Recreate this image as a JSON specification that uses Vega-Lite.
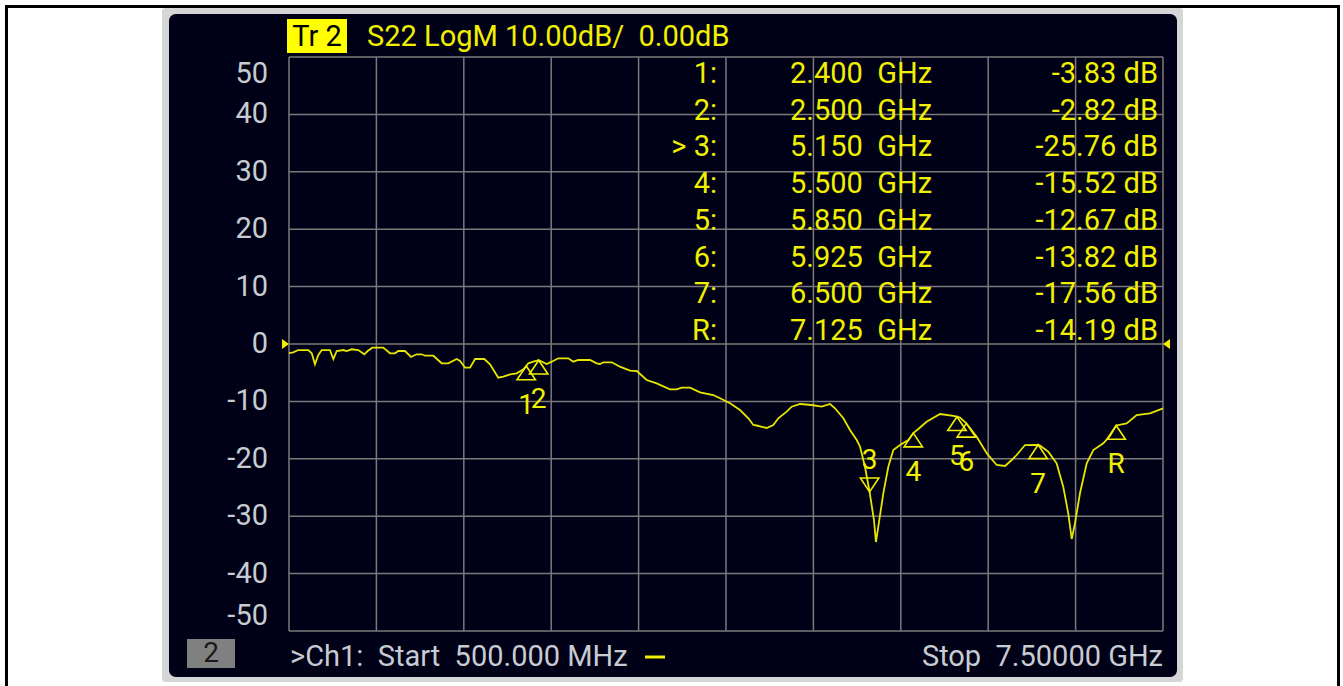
{
  "$schema": "https://vega.github.io/schema/vega-lite/v6.json",
  "width": 874,
  "height": 574,
  "autosize": {"type": "none"},
  "padding": {"left": 289, "top": 57, "right": 180, "bottom": 55},
  "background": "white",
  "config": {"view": {"stroke": null}, "font": "Roboto", "text": {"font": "Roboto"}},
  "datasets": {
    "trace": [
      {"f":0.5,"db":-1.6},{"f":0.534,"db":-1.45},{"f":0.574,"db":-1.05},{"f":0.655,"db":-1.05},{"f":0.682,"db":-1.62},{"f":0.708,"db":-3.54},{"f":0.735,"db":-1.92},{"f":0.762,"db":-1.05},{"f":0.828,"db":-1.05},{"f":0.855,"db":-2.61},{"f":0.882,"db":-1.22},{"f":0.935,"db":-1.05},{"f":0.962,"db":-1.22},{"f":1.002,"db":-0.92},{"f":1.055,"db":-1.05},{"f":1.103,"db":-1.79},{"f":1.13,"db":-1.22},{"f":1.167,"db":-0.64},{"f":1.255,"db":-0.64},{"f":1.309,"db":-1.62},{"f":1.349,"db":-1.62},{"f":1.375,"db":-1.22},{"f":1.429,"db":-1.22},{"f":1.477,"db":-2.26},{"f":1.523,"db":-1.79},{"f":1.563,"db":-1.79},{"f":1.589,"db":-2.04},{"f":1.656,"db":-2.04},{"f":1.723,"db":-3.36},{"f":1.776,"db":-3.36},{"f":1.843,"db":-2.61},{"f":1.87,"db":-2.96},{"f":1.91,"db":-4.13},{"f":1.95,"db":-4.13},{"f":1.99,"db":-2.61},{"f":2.064,"db":-2.61},{"f":2.11,"db":-3.54},{"f":2.176,"db":-5.87},{"f":2.217,"db":-5.7},{"f":2.271,"db":-5.3},{"f":2.324,"db":-5.1},{"f":2.377,"db":-4.41},{"f":2.4,"db":-3.83},{"f":2.417,"db":-3.36},{"f":2.457,"db":-3.08},{"f":2.5,"db":-2.82},{"f":2.51,"db":-2.91},{"f":2.564,"db":-3.48},{"f":2.604,"db":-3.08},{"f":2.657,"db":-2.49},{"f":2.737,"db":-2.49},{"f":2.777,"db":-3.08},{"f":2.817,"db":-2.79},{"f":2.911,"db":-2.79},{"f":2.964,"db":-3.36},{"f":2.991,"db":-3.48},{"f":3.017,"db":-3.19},{"f":3.085,"db":-3.19},{"f":3.151,"db":-3.95},{"f":3.231,"db":-4.65},{"f":3.285,"db":-4.7},{"f":3.365,"db":-6.27},{"f":3.445,"db":-6.85},{"f":3.551,"db":-7.89},{"f":3.605,"db":-7.89},{"f":3.645,"db":-7.61},{"f":3.712,"db":-7.61},{"f":3.792,"db":-8.41},{"f":3.898,"db":-8.89},{"f":3.952,"db":-9.46},{"f":4.032,"db":-10.33},{"f":4.112,"db":-11.5},{"f":4.179,"db":-12.94},{"f":4.219,"db":-14.11},{"f":4.246,"db":-14.2},{"f":4.326,"db":-14.63},{"f":4.379,"db":-14.11},{"f":4.419,"db":-12.94},{"f":4.486,"db":-11.79},{"f":4.526,"db":-10.92},{"f":4.593,"db":-10.45},{"f":4.686,"db":-10.63},{"f":4.766,"db":-10.92},{"f":4.833,"db":-10.45},{"f":4.873,"db":-11.2},{"f":4.94,"db":-12.94},{"f":4.993,"db":-14.98},{"f":5.047,"db":-16.72},{"f":5.074,"db":-17.89},{"f":5.113,"db":-21.38},{"f":5.15,"db":-25.76},{"f":5.185,"db":-30.66},{"f":5.201,"db":-34.5},{"f":5.228,"db":-30.66},{"f":5.26,"db":-26.01},{"f":5.3,"db":-21.38},{"f":5.34,"db":-18.47},{"f":5.394,"db":-17.6},{"f":5.46,"db":-16.72},{"f":5.5,"db":-15.52},{"f":5.54,"db":-14.81},{"f":5.607,"db":-13.54},{"f":5.714,"db":-12.2},{"f":5.82,"db":-12.54},{"f":5.85,"db":-12.67},{"f":5.874,"db":-12.8},{"f":5.925,"db":-13.82},{"f":6.008,"db":-16.15},{"f":6.088,"db":-19.04},{"f":6.168,"db":-21.08},{"f":6.235,"db":-21.25},{"f":6.288,"db":-20.21},{"f":6.328,"db":-19.34},{"f":6.395,"db":-17.6},{"f":6.5,"db":-17.56},{"f":6.515,"db":-17.68},{"f":6.581,"db":-18.76},{"f":6.648,"db":-20.78},{"f":6.701,"db":-24.86},{"f":6.741,"db":-29.49},{"f":6.769,"db":-33.97},{"f":6.795,"db":-31.24},{"f":6.835,"db":-26.01},{"f":6.889,"db":-20.78},{"f":6.942,"db":-18.47},{"f":7.022,"db":-17.3},{"f":7.075,"db":-16.03},{"f":7.125,"db":-14.19},{"f":7.209,"db":-13.82},{"f":7.289,"db":-12.37},{"f":7.396,"db":-12.07},{"f":7.5,"db":-11.2}
    ],
    "markers": [
      {"row":1,"id":"1","tag":"1:","freq":2.4,"val":-3.83,"active":false,"fLabel":"2.400\u00a0\u00a0GHz","vLabel":"-3.83 dB"},
      {"row":2,"id":"2","tag":"2:","freq":2.5,"val":-2.82,"active":false,"fLabel":"2.500\u00a0\u00a0GHz","vLabel":"-2.82 dB"},
      {"row":3,"id":"3","tag":"> 3:","freq":5.15,"val":-25.76,"active":true,"fLabel":"5.150\u00a0\u00a0GHz","vLabel":"-25.76 dB"},
      {"row":4,"id":"4","tag":"4:","freq":5.5,"val":-15.52,"active":false,"fLabel":"5.500\u00a0\u00a0GHz","vLabel":"-15.52 dB"},
      {"row":5,"id":"5","tag":"5:","freq":5.85,"val":-12.67,"active":false,"fLabel":"5.850\u00a0\u00a0GHz","vLabel":"-12.67 dB"},
      {"row":6,"id":"6","tag":"6:","freq":5.925,"val":-13.82,"active":false,"fLabel":"5.925\u00a0\u00a0GHz","vLabel":"-13.82 dB"},
      {"row":7,"id":"7","tag":"7:","freq":6.5,"val":-17.56,"active":false,"fLabel":"6.500\u00a0\u00a0GHz","vLabel":"-17.56 dB"},
      {"row":8,"id":"R","tag":"R:","freq":7.125,"val":-14.19,"active":false,"fLabel":"7.125\u00a0\u00a0GHz","vLabel":"-14.19 dB"}
    ],
    "vgrid": [{"f":0.5},{"f":1.2},{"f":1.9},{"f":2.6},{"f":3.3},{"f":4.0},{"f":4.7},{"f":5.4},{"f":6.1},{"f":6.8},{"f":7.5}],
    "hgrid": [{"db":-50},{"db":-40},{"db":-30},{"db":-20},{"db":-10},{"db":0},{"db":10},{"db":20},{"db":30},{"db":40},{"db":50}],
    "one": [{}]
  },
  "resolve": {"scale": {"y": "independent"}},
  "layer": [
    {
      "layer": [
        {
          "data": {"name": "one"},
          "mark": {"type": "rect", "fill": "transparent", "stroke": "#000000", "strokeWidth": 3},
          "encoding": {
            "x": {"datum": -1.7626, "type": "quantitative", "axis": null},
            "x2": {"datum": 8.9056},
            "y": {"datum": 58.798, "type": "quantitative", "axis": null},
            "y2": {"datum": -62.02}
          }
        },
        {
          "data": {"name": "one"},
          "mark": {"type": "rect", "fill": "#d6d6d6", "cornerRadius": 3},
          "encoding": {
            "x": {"datum": -0.5172, "type": "quantitative", "axis": null},
            "x2": {"datum": 7.6602},
            "y": {"datum": 58.537, "type": "quantitative", "axis": null},
            "y2": {"datum": -58.885}
          }
        },
        {
          "data": {"name": "one"},
          "mark": {"type": "rect", "fill": "#000016", "cornerRadius": 7},
          "encoding": {
            "x": {"datum": -0.4611, "type": "quantitative", "axis": null},
            "x2": {"datum": 7.6121},
            "y": {"datum": 57.491, "type": "quantitative", "axis": null},
            "y2": {"datum": -58.014}
          }
        },
        {
          "data": {"name": "vgrid"},
          "mark": {"type": "rule", "stroke": "#7a7a7a", "strokeWidth": 1.5},
          "encoding": {
            "x": {"field": "f", "type": "quantitative", "axis": null},
            "y": {"datum": -50, "type": "quantitative", "axis": null},
            "y2": {"datum": 50}
          }
        },
        {
          "data": {"name": "hgrid"},
          "mark": {"type": "rule", "stroke": "#7a7a7a", "strokeWidth": 1.5},
          "encoding": {
            "y": {"field": "db", "type": "quantitative", "axis": null},
            "x": {"datum": 0.5, "type": "quantitative", "axis": null},
            "x2": {"datum": 7.5}
          }
        },
        {
          "data": {"name": "hgrid"},
          "transform": [{"filter": "datum.db > -50 && datum.db < 50"}],
          "mark": {"type": "text", "fontSize": 29, "color": "#c6ccd2", "align": "right", "baseline": "middle"},
          "encoding": {
            "y": {"field": "db", "type": "quantitative", "axis": null},
            "x": {"datum": 0.3318, "type": "quantitative", "axis": null},
            "text": {"field": "db"}
          }
        },
        {
          "data": {"name": "hgrid"},
          "transform": [{"filter": "datum.db == 50"}],
          "mark": {"type": "text", "fontSize": 29, "color": "#c6ccd2", "align": "right", "baseline": "middle", "dy": 17},
          "encoding": {
            "y": {"field": "db", "type": "quantitative", "axis": null},
            "x": {"datum": 0.3318, "type": "quantitative", "axis": null},
            "text": {"field": "db"}
          }
        },
        {
          "data": {"name": "hgrid"},
          "transform": [{"filter": "datum.db == -50"}],
          "mark": {"type": "text", "fontSize": 29, "color": "#c6ccd2", "align": "right", "baseline": "middle", "dy": -15},
          "encoding": {
            "y": {"field": "db", "type": "quantitative", "axis": null},
            "x": {"datum": 0.3318, "type": "quantitative", "axis": null},
            "text": {"field": "db"}
          }
        },
        {
          "data": {"name": "trace"},
          "mark": {"type": "line", "stroke": "#e6e600", "strokeWidth": 1.8, "interpolate": "linear"},
          "encoding": {
            "x": {"field": "f", "type": "quantitative", "axis": null, "scale": {"domain": [0.5, 7.5], "nice": false, "zero": false}},
            "y": {"field": "db", "type": "quantitative", "axis": null, "scale": {"domain": [-50, 50], "nice": false, "zero": false}}
          }
        },
        {
          "data": {"name": "markers"},
          "transform": [{"filter": "!datum.active"}],
          "mark": {"type": "point", "shape": "M0,0L-1,1.5L1,1.5Z", "size": 340, "filled": false, "stroke": "#f0f000", "strokeWidth": 1.6, "opacity": 1},
          "encoding": {
            "x": {"field": "freq", "type": "quantitative", "axis": null},
            "y": {"field": "val", "type": "quantitative", "axis": null}
          }
        },
        {
          "data": {"name": "markers"},
          "transform": [{"filter": "datum.active"}],
          "mark": {"type": "point", "shape": "M0,0L-1,-1.5L1,-1.5Z", "size": 340, "filled": false, "stroke": "#f0f000", "strokeWidth": 1.6, "opacity": 1},
          "encoding": {
            "x": {"field": "freq", "type": "quantitative", "axis": null},
            "y": {"field": "val", "type": "quantitative", "axis": null}
          }
        },
        {
          "data": {"name": "markers"},
          "transform": [{"filter": "!datum.active"}],
          "mark": {"type": "text", "dy": 40, "fontSize": 28, "color": "#f0f000", "align": "center", "baseline": "middle"},
          "encoding": {
            "x": {"field": "freq", "type": "quantitative", "axis": null},
            "y": {"field": "val", "type": "quantitative", "axis": null},
            "text": {"field": "id"}
          }
        },
        {
          "data": {"name": "markers"},
          "transform": [{"filter": "datum.active"}],
          "mark": {"type": "text", "dy": -31, "fontSize": 28, "color": "#f0f000", "align": "center", "baseline": "middle"},
          "encoding": {
            "x": {"field": "freq", "type": "quantitative", "axis": null},
            "y": {"field": "val", "type": "quantitative", "axis": null},
            "text": {"field": "id"}
          }
        },
        {
          "data": {"name": "one"},
          "mark": {"type": "point", "shape": "M0,0L-1.4,-1L-1.4,1Z", "size": 100, "filled": true, "fill": "#f0f000", "opacity": 1},
          "encoding": {
            "x": {"datum": 0.5, "type": "quantitative", "axis": null},
            "y": {"datum": 0, "type": "quantitative", "axis": null}
          }
        },
        {
          "data": {"name": "one"},
          "mark": {"type": "point", "shape": "M0,0L1.4,-1L1.4,1Z", "size": 100, "filled": true, "fill": "#f0f000", "opacity": 1},
          "encoding": {
            "x": {"datum": 7.5, "type": "quantitative", "axis": null},
            "y": {"datum": 0, "type": "quantitative", "axis": null}
          }
        },
        {
          "data": {"name": "one"},
          "mark": {"type": "rect", "fill": "#ffff00"},
          "encoding": {
            "x": {"datum": 0.484, "type": "quantitative", "axis": null},
            "x2": {"datum": 0.9645},
            "y": {"datum": 56.62, "type": "quantitative", "axis": null},
            "y2": {"datum": 50.7}
          }
        },
        {
          "data": {"name": "one"},
          "mark": {"type": "text", "text": "Tr\u00a02", "fontSize": 29, "color": "#000000", "align": "center", "baseline": "middle"},
          "encoding": {
            "x": {"datum": 0.7243, "type": "quantitative", "axis": null},
            "y": {"datum": 53.48, "type": "quantitative", "axis": null}
          }
        },
        {
          "data": {"name": "one"},
          "mark": {"type": "text", "text": "S22 LogM 10.00dB/\u00a0\u00a00.00dB", "fontSize": 29, "color": "#f0f000", "align": "left", "baseline": "middle"},
          "encoding": {
            "x": {"datum": 1.1247, "type": "quantitative", "axis": null},
            "y": {"datum": 53.48, "type": "quantitative", "axis": null}
          }
        },
        {
          "data": {"name": "one"},
          "mark": {"type": "rect", "fill": "#808080"},
          "encoding": {
            "x": {"datum": -0.3169, "type": "quantitative", "axis": null},
            "x2": {"datum": 0.0675},
            "y": {"datum": -51.394, "type": "quantitative", "axis": null},
            "y2": {"datum": -56.446}
          }
        },
        {
          "data": {"name": "one"},
          "mark": {"type": "text", "text": "2", "fontSize": 28, "color": "#1a1a1a", "align": "center", "baseline": "middle"},
          "encoding": {
            "x": {"datum": -0.1247, "type": "quantitative", "axis": null},
            "y": {"datum": -54.0, "type": "quantitative", "axis": null}
          }
        },
        {
          "data": {"name": "one"},
          "mark": {"type": "text", "text": ">Ch1:\u00a0\u00a0Start\u00a0\u00a0500.000 MHz", "fontSize": 29, "color": "#c6ccd2", "align": "left", "baseline": "middle"},
          "encoding": {
            "x": {"datum": 0.508, "type": "quantitative", "axis": null},
            "y": {"datum": -54.53, "type": "quantitative", "axis": null}
          }
        },
        {
          "data": {"name": "one"},
          "mark": {"type": "rule", "stroke": "#f0f000", "strokeWidth": 3},
          "encoding": {
            "x": {"datum": 3.3513, "type": "quantitative", "axis": null},
            "x2": {"datum": 3.5114},
            "y": {"datum": -54.53, "type": "quantitative", "axis": null}
          }
        },
        {
          "data": {"name": "one"},
          "mark": {"type": "text", "text": "Stop\u00a0\u00a07.50000 GHz", "fontSize": 29, "color": "#c6ccd2", "align": "right", "baseline": "middle"},
          "encoding": {
            "x": {"datum": 7.5, "type": "quantitative", "axis": null},
            "y": {"datum": -54.53, "type": "quantitative", "axis": null}
          }
        }
      ]
    },
    {
      "data": {"name": "markers"},
      "encoding": {
        "y": {"field": "row", "type": "quantitative", "axis": null, "scale": {"domain": [0.537, 16.171], "reverse": true, "nice": false, "zero": false}}
      },
      "layer": [
        {
          "mark": {"type": "text", "fontSize": 29, "color": "#f0f000", "align": "right", "baseline": "middle"},
          "encoding": {
            "x": {"datum": 3.928, "type": "quantitative", "axis": null},
            "text": {"field": "tag"}
          }
        },
        {
          "mark": {"type": "text", "fontSize": 29, "color": "#f0f000", "align": "left", "baseline": "middle"},
          "encoding": {
            "x": {"datum": 4.5126, "type": "quantitative", "axis": null},
            "text": {"field": "fLabel"}
          }
        },
        {
          "mark": {"type": "text", "fontSize": 29, "color": "#f0f000", "align": "right", "baseline": "middle"},
          "encoding": {
            "x": {"datum": 7.4599, "type": "quantitative", "axis": null},
            "text": {"field": "vLabel"}
          }
        }
      ]
    }
  ]
}
